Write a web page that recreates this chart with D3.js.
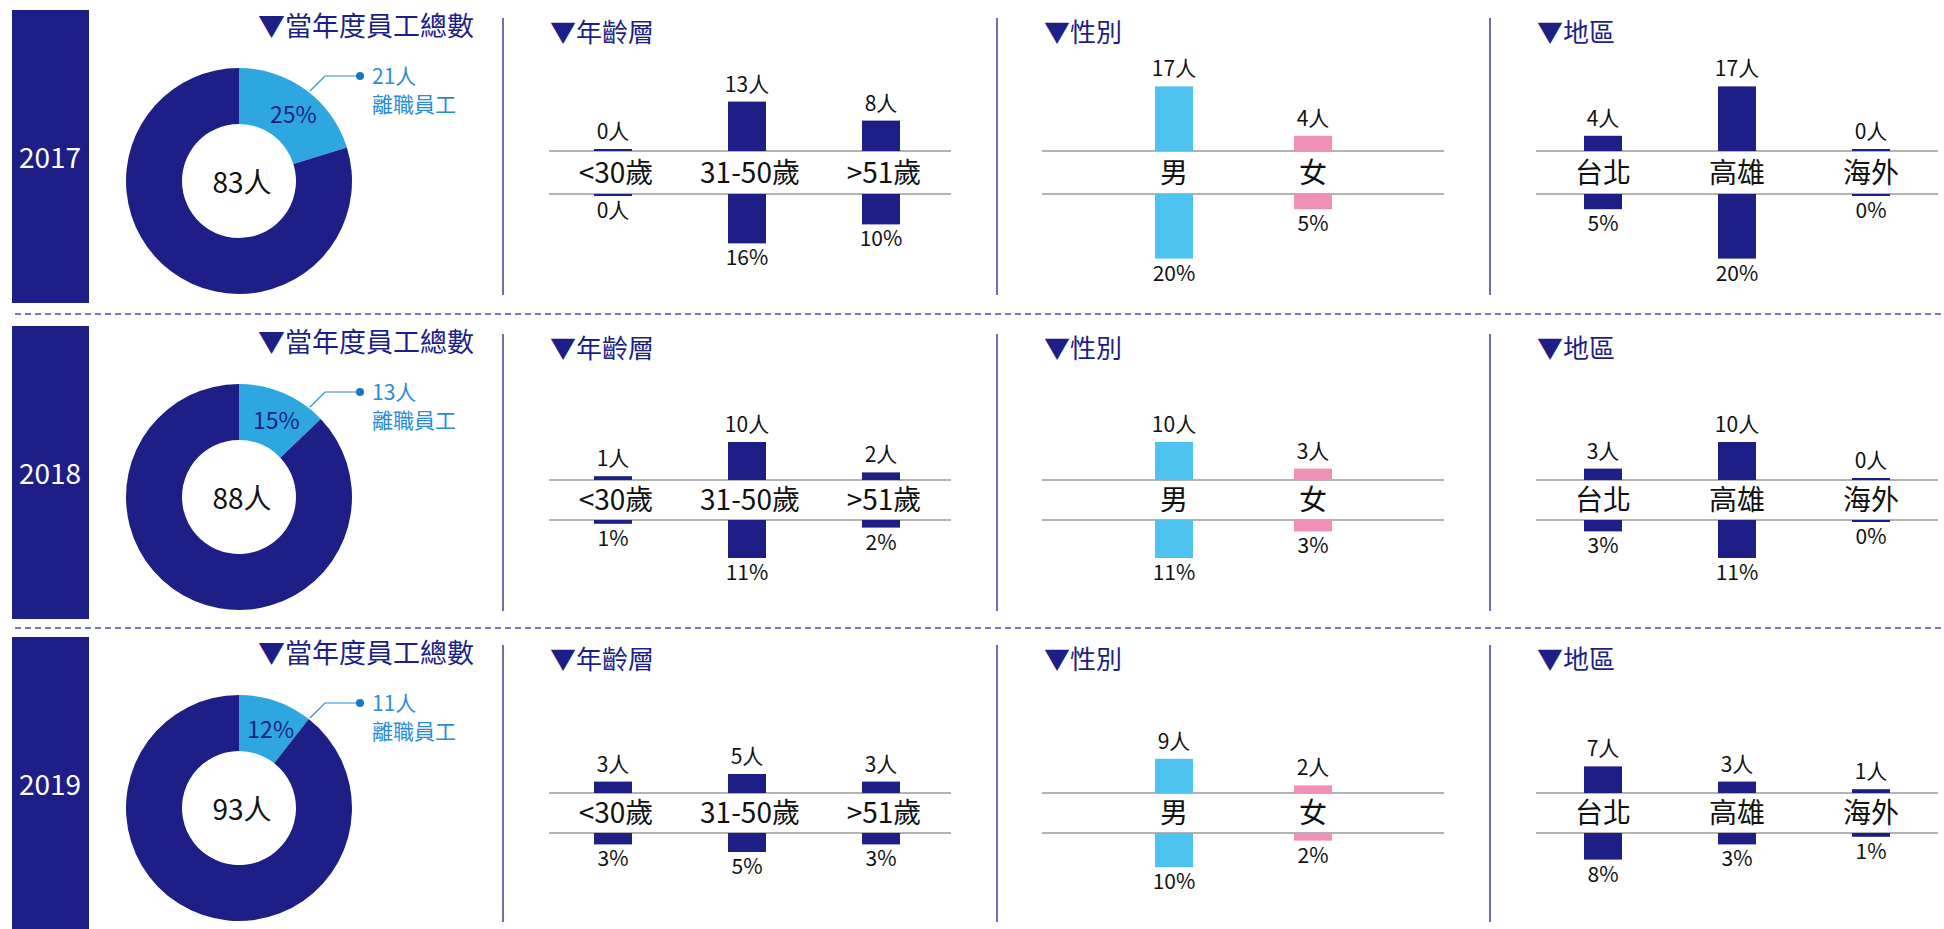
<!DOCTYPE html>
<html>
<head>
<meta charset="utf-8">
<script src="https://cdn.jsdelivr.net/npm/d3@7"></script>
<style>
  body { margin: 0; background: #fff; }
  svg { display: block; }
  text { font-family: "Noto Sans CJK TC", "Noto Sans", sans-serif; }
</style>
</head>
<body>
<div id="chart"></div>
<script>
// turnover data, one entry per year
var years = ["2017", "2018", "2019"];
var totalStaff = [83, 88, 93];
var leavers = [21, 13, 11];
var leaverRate = [25, 15, 12];

var ageGroups = ["<30歲", "31-50歲", ">51歲"];
var ageCounts = [[0, 13, 8], [1, 10, 2], [3, 5, 3]];
var ageRates = [["0人", "16%", "10%"], ["1%", "11%", "2%"], ["3%", "5%", "3%"]];

var genders = ["男", "女"];
var genderCounts = [[17, 4], [10, 3], [9, 2]];
var genderRates = [["20%", "5%"], ["11%", "3%"], ["10%", "2%"]];

var regions = ["台北", "高雄", "海外"];
var regionCounts = [[4, 17, 0], [3, 10, 0], [7, 3, 1]];
var regionRates = [["5%", "20%", "0%"], ["3%", "11%", "0%"], ["8%", "3%", "1%"]];

// colours
var navy = "#1e1f86";
var sky = "#2ea7e0";
var labelBlue = "#2a8cd4";

var width = 1944, height = 929;
var rowTop = [0, 316, 627];
var axisTop = [151, 164, 166];
var axisGap = [43, 40, 40];

var svg = d3.select("#chart").append("svg")
  .attr("width", width)
  .attr("height", height);

// bar heights in px per person
var hScale = d3.scaleLinear().domain([0, 17]).range([0, 64.6]);
function barH(v) { return Math.max(hScale(v), 2); }

var arc = d3.arc().innerRadius(57).outerRadius(113);
var pie = d3.pie().sort(null).value(d => d);

var panels = [
  { title: "▼年齡層", titleX: 550, cats: ageGroups, counts: ageCounts, rates: ageRates,
    range: [613, 881], labelShift: 3, axis: [549, 951], colors: [navy, navy, navy] },
  { title: "▼性別", titleX: 1044, cats: genders, counts: genderCounts, rates: genderRates,
    range: [1174, 1313], labelShift: 0, axis: [1042, 1444], colors: ["#4fc3f0", "#ef90b9"] },
  { title: "▼地區", titleX: 1537, cats: regions, counts: regionCounts, rates: regionRates,
    range: [1603, 1871], labelShift: 0, axis: [1536, 1938], colors: [navy, navy, navy] }
];

// dashed separators between years
[314, 628].forEach(function(y) {
  svg.append("line")
    .attr("x1", 15).attr("x2", width)
    .attr("y1", y).attr("y2", y)
    .attr("stroke", "#4b4fa6")
    .attr("stroke-width", 1.5)
    .attr("stroke-dasharray", "6,4");
});

years.forEach(function(year, i) {
  var g = svg.append("g").attr("transform", `translate(0, ${rowTop[i]})`);

  // year block
  g.append("rect")
    .attr("x", 12).attr("y", 10)
    .attr("width", 77).attr("height", 293)
    .attr("fill", navy);
  g.append("text")
    .attr("x", 50).attr("y", 156)
    .attr("text-anchor", "middle")
    .attr("dominant-baseline", "central")
    .attr("font-size", "28px")
    .attr("fill", "#fff")
    .text(year);

  // donut
  g.append("text")
    .attr("x", 258).attr("y", 36)
    .attr("font-size", "27px")
    .attr("fill", navy)
    .text("▼當年度員工總數");

  var donut = g.append("g").attr("transform", "translate(239, 181)");
  var slices = pie([leavers[i], totalStaff[i]]);
  donut.selectAll("path")
    .data(slices)
    .enter()
    .append("path")
    .attr("d", arc)
    .attr("fill", (d, k) => k == 0 ? sky : navy);

  var c = arc.centroid(slices[0]);
  donut.append("text")
    .attr("x", c[0] + 4).attr("y", c[1])
    .attr("text-anchor", "middle")
    .attr("dominant-baseline", "central")
    .attr("font-size", "23px")
    .attr("fill", navy)
    .text(leaverRate[i] + "%");

  donut.append("text")
    .attr("x", 3).attr("y", 0)
    .attr("text-anchor", "middle")
    .attr("dominant-baseline", "central")
    .attr("font-size", "28px")
    .attr("fill", "#111")
    .text(totalStaff[i] + "人");

  // leader to the leavers label
  donut.append("polyline")
    .attr("points", "71,-90 86,-105 121,-105")
    .attr("fill", "none")
    .attr("stroke", labelBlue)
    .attr("stroke-width", 1.2);
  donut.append("circle")
    .attr("cx", 121).attr("cy", -105).attr("r", 4)
    .attr("fill", "#1a76c0");
  donut.append("text")
    .attr("x", 133).attr("y", -97)
    .attr("font-size", "21px")
    .attr("fill", labelBlue)
    .text(leavers[i] + "人");
  donut.append("text")
    .attr("x", 133).attr("y", -69)
    .attr("font-size", "21px")
    .attr("fill", labelBlue)
    .text("離職員工");

  // panel dividers
  [503, 997, 1490].forEach(function(x) {
    g.append("line")
      .attr("x1", x).attr("x2", x)
      .attr("y1", 18).attr("y2", 295)
      .attr("stroke", "#3a3d9c")
      .attr("stroke-width", 1.5);
  });

  var top = axisTop[i], bottom = axisTop[i] + axisGap[i];

  panels.forEach(function(p) {
    var x = d3.scalePoint().domain(p.cats).range(p.range);
    var counts = p.counts[i], rates = p.rates[i];

    g.append("text")
      .attr("x", p.titleX).attr("y", 42)
      .attr("font-size", "26px")
      .attr("fill", navy)
      .text(p.title);

    [top, bottom].forEach(function(y) {
      g.append("line")
        .attr("x1", p.axis[0]).attr("x2", p.axis[1])
        .attr("y1", y).attr("y2", y)
        .attr("stroke", "#9a9a9a")
        .attr("stroke-width", 1.5);
    });

    // upward bars: head count
    g.selectAll(null)
      .data(counts)
      .enter()
      .append("rect")
      .attr("x", (d, k) => x(p.cats[k]) - 19)
      .attr("y", d => top - barH(d))
      .attr("width", 38)
      .attr("height", d => barH(d))
      .attr("fill", (d, k) => p.colors[k]);

    g.selectAll(null)
      .data(counts)
      .enter()
      .append("text")
      .attr("x", (d, k) => x(p.cats[k]))
      .attr("y", d => top - barH(d) - 10)
      .attr("text-anchor", "middle")
      .attr("font-size", "21px")
      .attr("fill", "#111")
      .text(d => d + "人");

    // downward bars: share
    g.selectAll(null)
      .data(counts)
      .enter()
      .append("rect")
      .attr("x", (d, k) => x(p.cats[k]) - 19)
      .attr("y", bottom)
      .attr("width", 38)
      .attr("height", d => barH(d))
      .attr("fill", (d, k) => p.colors[k]);

    g.selectAll(null)
      .data(counts)
      .enter()
      .append("text")
      .attr("x", (d, k) => x(p.cats[k]))
      .attr("y", d => bottom + barH(d) + 22)
      .attr("text-anchor", "middle")
      .attr("font-size", "21px")
      .attr("fill", "#111")
      .text((d, k) => rates[k]);

    // category names between the two lines
    g.selectAll(null)
      .data(p.cats)
      .enter()
      .append("text")
      .attr("x", d => x(d) + p.labelShift)
      .attr("y", (top + bottom) / 2 + 10)
      .attr("text-anchor", "middle")
      .attr("font-size", "28px")
      .attr("fill", "#111")
      .text(d => d);
  });
});
</script>
</body>
</html>
